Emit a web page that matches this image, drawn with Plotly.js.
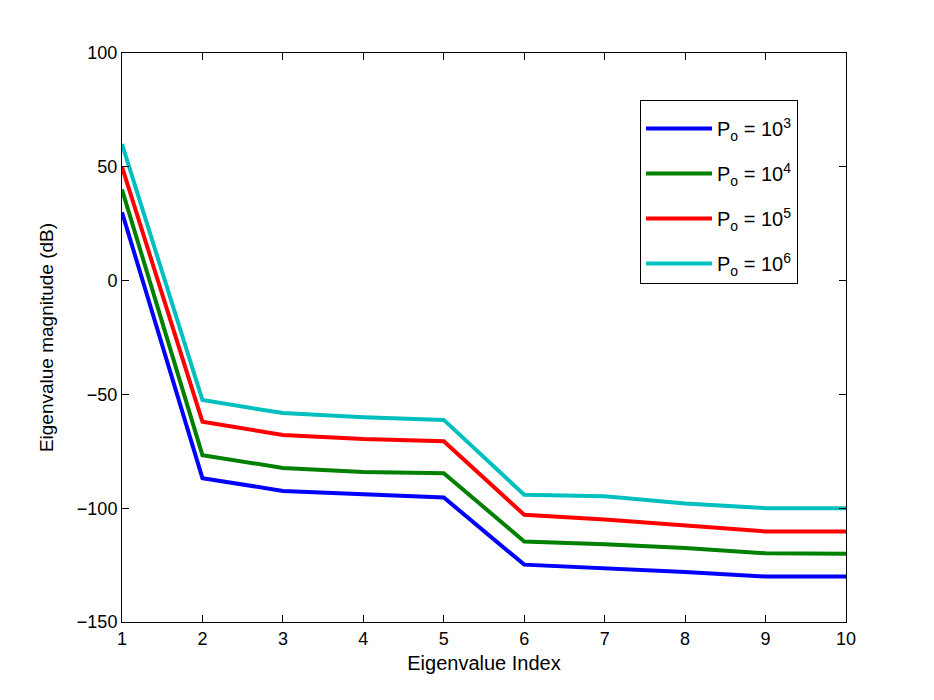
<!DOCTYPE html>
<html>
<head>
<meta charset="utf-8">
<script src="https://cdn.plot.ly/plotly-3.0.1.min.js"></script>
<style>html,body{margin:0;padding:0;background:#fff;}</style>
</head>
<body>
<div id="chart" style="width:934px;height:700px;"></div>
<script>
const xIndex = [1, 2, 3, 4, 5, 6, 7, 8, 9, 10];
const seriesNames = ["P<sub>o</sub> = 10<sup>3</sup>", "P<sub>o</sub> = 10<sup>4</sup>", "P<sub>o</sub> = 10<sup>5</sup>", "P<sub>o</sub> = 10<sup>6</sup>"];
const po1e3 = [30, -86.8, -92.4, -93.9, -95.3, -124.8, -126.2, -128, -130, -130];
const po1e4 = [40, -76.7, -82.3, -84.1, -84.6, -114.6, -115.8, -117.5, -119.8, -120];
const po1e5 = [50, -62, -67.8, -69.6, -70.6, -102.9, -105, -107.4, -110.2, -110.2];
const po1e6 = [60, -52.5, -58.2, -60, -61.2, -94.1, -94.8, -97.9, -100, -100];
const seriesColors = ["#0000ff", "#008000", "#ff0000", "#00bfbf"];
const allSeries = [po1e3, po1e4, po1e5, po1e6];

const fontFam = "Liberation Sans, Arial, sans-serif";
const traces = allSeries.map((ys, i) => ({
  x: xIndex, y: ys, type: "scatter", mode: "lines",
  name: seriesNames[i], legendgroup: "g" + i,
  line: {color: seriesColors[i], width: 4}
}));

const layout = {
  width: 934, height: 700,
  margin: {l: 122, r: 88, t: 53, b: 78},
  paper_bgcolor: "#fff", plot_bgcolor: "#fff",
  font: {family: fontFam, size: 18, color: "#000"},
  showlegend: true,
  legend: {
    x: 0.7155, y: 0.917, xanchor: "left", yanchor: "top",
    bordercolor: "#000", borderwidth: 1, bgcolor: "#fff",
    font: {family: fontFam, size: 20, color: "#000"},
    itemwidth: 66, tracegroupgap: 16,
    title: {text: " ", font: {family: fontFam, size: 6}}
  },
  xaxis: {
    range: [1, 10], tickvals: xIndex, ticks: "inside", ticklen: 7,
    showline: true, linecolor: "#000", linewidth: 1, mirror: "ticks",
    showgrid: false, zeroline: false, tickcolor: "#000",
    tickfont: {family: fontFam, size: 18},
    title: {text: "Eigenvalue Index", font: {family: fontFam, size: 20}, standoff: 8}
  },
  yaxis: {
    range: [-150, 100], tickvals: [-150, -100, -50, 0, 50, 100], ticks: "inside", ticklen: 7,
    showline: true, linecolor: "#000", linewidth: 1, mirror: "ticks",
    showgrid: false, zeroline: false, tickcolor: "#000",
    tickfont: {family: fontFam, size: 18},
    title: {text: "Eigenvalue magnitude (dB)", font: {family: fontFam, size: 19}, standoff: 18}
  }
};
Plotly.newPlot("chart", traces, layout, {displayModeBar: false});
</script>
</body>
</html>
